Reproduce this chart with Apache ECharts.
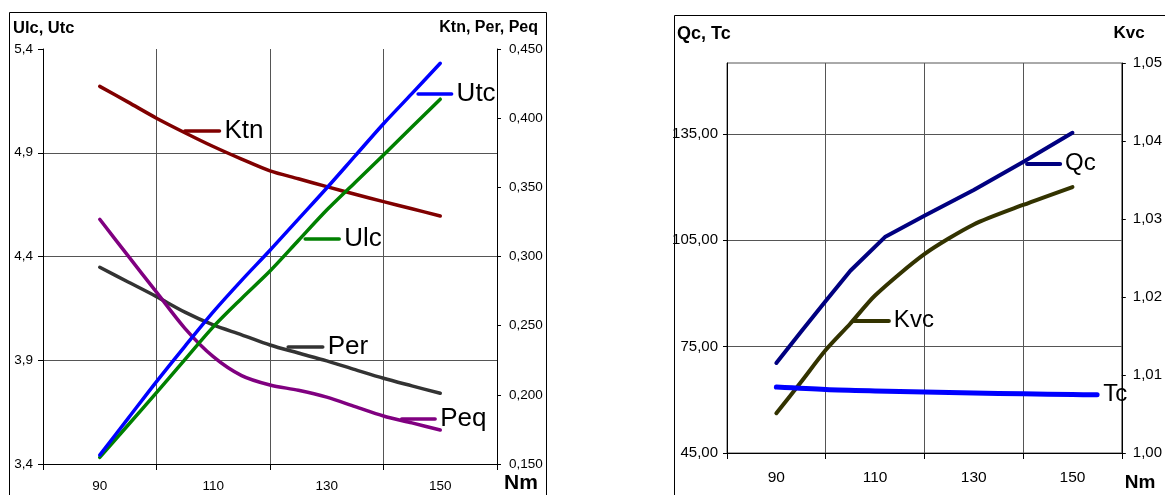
<!DOCTYPE html>
<html>
<head>
<meta charset="utf-8">
<script src="https://cdn.jsdelivr.net/npm/echarts@6/dist/echarts.min.js"></script>
<style>
  html, body { margin: 0; padding: 0; background: #fff; }
  #chart { width: 1165px; height: 495px; }
</style>
</head>
<body>
<div id="chart"></div>
<script>
// ---- Left panel: voltages (left axis) and coefficients (right axis) vs Nm ----
const nmLeft = [90, 95, 100, 105, 110, 115, 120, 125, 130, 135, 140, 145, 150];
const ktn = [0.4230, 0.4116, 0.4000, 0.3895, 0.3795, 0.3704, 0.3619, 0.3562, 0.3505, 0.3450, 0.3397, 0.3345, 0.3293];
const utc = [3.443, 3.620, 3.797, 3.967, 4.133, 4.285, 4.430, 4.580, 4.730, 4.885, 5.040, 5.185, 5.331];
const ulc = [3.432, 3.588, 3.744, 3.903, 4.061, 4.198, 4.330, 4.477, 4.624, 4.757, 4.889, 5.024, 5.158];
const per = [0.2922, 0.2816, 0.2710, 0.2598, 0.2505, 0.2434, 0.2360, 0.2302, 0.2245, 0.2182, 0.2120, 0.2065, 0.2011];
const peq = [0.3269, 0.3004, 0.2742, 0.2481, 0.2276, 0.2139, 0.2071, 0.2033, 0.1983, 0.1915, 0.1847, 0.1797, 0.1746];

// ---- Right panel: Qc, Tc (left axis) and Kvc (right axis) vs Nm ----
const nmQc = [90, 95, 100, 105, 112, 120, 130, 140, 150];
const qc = [70.4, 79.2, 87.9, 96.4, 105.9, 111.9, 119.2, 127.1, 135.3];
const nmKvc = [90, 95, 100, 105, 110, 120, 130, 140, 150];
const kvc = [1.0051, 1.0091, 1.0132, 1.0166, 1.0202, 1.0255, 1.0293, 1.0318, 1.0341];
const nmTc = [90, 100, 110, 120, 130, 140, 150, 155];
const tc = [63.6, 62.9, 62.5, 62.2, 61.9, 61.7, 61.5, 61.4];

// ---- Tick labels ----
const nmLabels = [90, 110, 130, 150];
const uTicks = [3.4, 3.9, 4.4, 4.9, 5.4];
const uGrid = [3.9, 4.4, 4.9];
const kTicks = [0.15, 0.2, 0.25, 0.3, 0.35, 0.4, 0.45];
const qTicks = [45, 75, 105, 135];
const kvcTicks = [1.0, 1.01, 1.02, 1.03, 1.04, 1.05];

// ---- Name tags with leader strokes: [from Nm, to Nm, value] ----
const ktnTag = [105.0, 111.1, 0.391];
const ulcTag = [126.2, 132.2, 4.484];
const utcTag = [146.1, 152.0, 5.183];
const perTag = [123.2, 129.3, 0.2344];
const peqTag = [143.2, 149.1, 0.183];
const qcTag = [140.8, 147.5, 126.7];
const kvcTag = [105.8, 112.8, 1.0170];

const FONT = '"Liberation Sans", Arial, sans-serif';
const NARROW = '"Liberation Sans Narrow", "Arial Narrow", "Liberation Sans", Arial, sans-serif';
const comma = d => v => v.toFixed(d).replace('.', ',');

function pairs(xs, ys) { return xs.map((x, i) => [x, ys[i]]); }

function line(name, xs, ys, xi, yi, color, width, smooth, tag, fontSize, family) {
  const s = {
    type: 'line', name, data: pairs(xs, ys),
    xAxisIndex: xi, yAxisIndex: yi,
    symbol: 'none', showSymbol: false, smooth,
    lineStyle: { color, width, cap: 'round', join: 'round' },
    itemStyle: { color },
    emphasis: { disabled: true },
    z: 3
  };
  if (tag) {
    s.markLine = {
      silent: true, symbol: ['none', 'none'], animation: false,
      lineStyle: { color, width, type: 'solid', cap: 'round' },
      label: { show: true, position: 'end', formatter: name, color: '#000',
               fontSize, fontFamily: family, distance: 5 },
      emphasis: { disabled: true },
      data: [[{ coord: [tag[0], tag[2]] }, { coord: [tag[1], tag[2]] }]]
    };
  }
  return s;
}

const axisBlack = { show: true, onZero: false, lineStyle: { color: '#000', width: 1 } };
const gridLine = { show: true, lineStyle: { color: '#555', width: 1 } };

function xAxisFor(gi, margin, fontSize, family) {
  return {
    gridIndex: gi, type: 'value', min: 80, max: 160, interval: 20,
    axisLine: axisBlack,
    axisTick: { show: true, length: 6, lineStyle: { color: '#000' } },
    axisLabel: { customValues: nmLabels, margin, fontSize, fontFamily: family, color: '#000' },
    splitLine: gridLine
  };
}

const chart = echarts.init(document.getElementById('chart'), null, { renderer: 'canvas' });

chart.setOption({
  animation: false,
  backgroundColor: '#fff',
  grid: [
    { left: 43, top: 49, width: 454, height: 415 },
    { left: 727, top: 63, width: 402, height: 390, show: true,
      borderColor: '#555', borderWidth: 1, backgroundColor: 'transparent' }
  ],
  xAxis: [
    xAxisFor(0, 15, 13.5, FONT),
    xAxisFor(1, 17, 15.5, NARROW)
  ],
  yAxis: [
    { // Ulc, Utc
      gridIndex: 0, type: 'value', position: 'left', min: 3.4, max: 5.4, interval: 0.5,
      axisLine: axisBlack,
      axisTick: { show: true, length: 5, lineStyle: { color: '#000' } },
      axisLabel: { customValues: uTicks, formatter: comma(1), margin: 10, fontSize: 13.5, fontFamily: FONT, color: '#000' },
      splitLine: { show: false }
    },
    { // Ktn, Per, Peq
      gridIndex: 0, type: 'value', position: 'right', min: 0.15, max: 0.45, interval: 0.05,
      axisLine: axisBlack,
      axisTick: { show: true, length: 4, lineStyle: { color: '#000' } },
      axisLabel: { customValues: kTicks, formatter: comma(3), margin: 12, fontSize: 13.5, fontFamily: FONT, color: '#000' },
      splitLine: { show: false }
    },
    { // horizontal grid of the left panel
      gridIndex: 0, type: 'value', position: 'left', min: 3.4, max: 5.4,
      axisLine: { show: false },
      axisTick: { show: false, customValues: uGrid },
      axisLabel: { show: false },
      splitLine: gridLine
    },
    { // Qc, Tc
      gridIndex: 1, type: 'value', position: 'left', min: 45, max: 155, interval: 30,
      axisLine: axisBlack,
      axisTick: { show: true, length: 4, customValues: qTicks, lineStyle: { color: '#000' } },
      axisLabel: { customValues: qTicks, formatter: comma(2), margin: 9, fontSize: 15, fontFamily: NARROW, color: '#000' },
      splitLine: gridLine
    },
    { // Kvc
      gridIndex: 1, type: 'value', position: 'right', min: 1.0, max: 1.05, interval: 0.01,
      axisLine: axisBlack,
      axisTick: { show: true, length: 4, lineStyle: { color: '#000' } },
      axisLabel: { customValues: kvcTicks, formatter: comma(2), margin: 11, fontSize: 15, fontFamily: NARROW, color: '#000' },
      splitLine: { show: false }
    }
  ],
  series: [
    line('Ktn', nmLeft, ktn, 0, 1, '#800000', 3.5, 0.3, ktnTag, 26, FONT),
    line('Per', nmLeft, per, 0, 1, '#333333', 3.5, 0.3, perTag, 26, FONT),
    line('Peq', nmLeft, peq, 0, 1, '#800080', 3.5, 0.3, peqTag, 26, FONT),
    line('Ulc', nmLeft, ulc, 0, 0, '#008000', 3.5, 0.3, ulcTag, 26, FONT),
    line('Utc', nmLeft, utc, 0, 0, '#0000FF', 3.5, 0.3, utcTag, 26, FONT),
    line('Kvc', nmKvc, kvc, 1, 4, '#333300', 4, 0.25, kvcTag, 24, NARROW),
    line('Qc', nmQc, qc, 1, 3, '#000080', 4, false, qcTag, 24, NARROW),
    Object.assign(line('Tc', nmTc, tc, 1, 3, '#0000FF', 5, 0.3, null), {
      endLabel: { show: true, formatter: 'Tc', color: '#000', fontSize: 24, fontFamily: NARROW, distance: 6 }
    })
  ],
  graphic: [
    { type: 'rect', silent: true, z: 0,
      shape: { x: 9.5, y: 12.5, width: 537, height: 500 },
      style: { fill: 'none', stroke: '#000', lineWidth: 1 } },
    { type: 'rect', silent: true, z: 0,
      shape: { x: 674.5, y: 15.5, width: 520, height: 500 },
      style: { fill: 'none', stroke: '#000', lineWidth: 1 } },
    { type: 'text', silent: true,
      style: { text: 'Ulc, Utc', x: 13, y: 28, font: 'bold 16.5px ' + FONT, fill: '#000',
               align: 'left', verticalAlign: 'middle', textAlign: 'left', textVerticalAlign: 'middle' } },
    { type: 'text', silent: true,
      style: { text: 'Ktn, Per, Peq', x: 538, y: 28, font: 'bold 16px ' + FONT, fill: '#000',
               align: 'right', verticalAlign: 'middle', textAlign: 'right', textVerticalAlign: 'middle' } },
    { type: 'text', silent: true,
      style: { text: 'Nm', x: 521, y: 483, font: 'bold 21px ' + FONT, fill: '#000',
               align: 'center', verticalAlign: 'middle', textAlign: 'center', textVerticalAlign: 'middle' } },
    { type: 'text', silent: true,
      style: { text: 'Qc, Tc', x: 677, y: 34, font: 'bold 18px ' + NARROW, fill: '#000',
               align: 'left', verticalAlign: 'middle', textAlign: 'left', textVerticalAlign: 'middle' } },
    { type: 'text', silent: true,
      style: { text: 'Kvc', x: 1129, y: 33, font: 'bold 17px ' + NARROW, fill: '#000',
               align: 'center', verticalAlign: 'middle', textAlign: 'center', textVerticalAlign: 'middle' } },
    { type: 'text', silent: true,
      style: { text: 'Nm', x: 1140, y: 483, font: 'bold 19px ' + NARROW, fill: '#000',
               align: 'center', verticalAlign: 'middle', textAlign: 'center', textVerticalAlign: 'middle' } }
  ]
});
</script>
</body>
</html>
